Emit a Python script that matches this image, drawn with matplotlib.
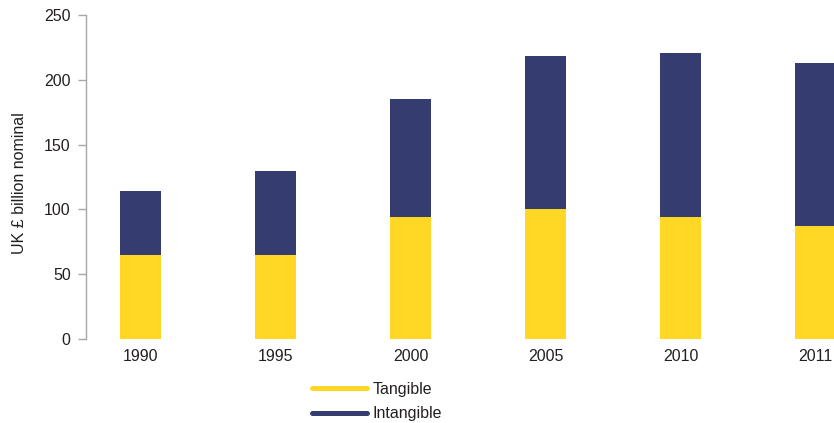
import matplotlib
matplotlib.use("Agg")
import matplotlib.pyplot as plt
from matplotlib.lines import Line2D

years = ["1990", "1995", "2000", "2005", "2010", "2011"]
tangible = [65, 65, 94, 100, 94, 87]
intangible = [49, 65, 91, 118, 127, 126]

c_tan = "#FFD724"
c_int = "#353C70"
axis_c = "#A6A6AE"
txt_c = "#231F20"

plt.rcParams['font.family'] = ['Liberation Sans', 'DejaVu Sans']

fig = plt.figure(figsize=(8.34, 4.23), dpi=100)
ax = fig.add_axes([86/834, 1-339/423, 1-86/834, 324/423])

x = list(range(len(years)))
ax.bar(x, tangible, width=0.304, color=c_tan, label="Tangible")
ax.bar(x, intangible, width=0.304, bottom=tangible, color=c_int, label="Intangible")

ax.set_xlim(-0.404, 5.137)
ax.set_ylim(0, 250)
ax.set_yticks([0, 50, 100, 150, 200, 250])
ax.set_xticks(x)
ax.set_xticklabels(years)

for s in ["top", "right", "bottom"]:
    ax.spines[s].set_visible(False)
ax.spines["left"].set_color(axis_c)
ax.spines["left"].set_linewidth(1.0)
ax.tick_params(axis="y", colors=axis_c, labelcolor=txt_c, labelsize=11.5, length=6, width=1.0, pad=5)
ax.tick_params(axis="x", length=0, labelsize=11.5, labelcolor=txt_c, pad=7)
ax.set_ylabel("UK £ billion nominal", fontsize=11.5, color=txt_c)
ax.yaxis.set_label_coords(-0.079, 0.481)

handles = [Line2D([0], [0], color=c_tan, lw=3.6, solid_capstyle="round"),
           Line2D([0], [0], color=c_int, lw=3.6, solid_capstyle="round")]
fig.legend(handles, ["Tangible", "Intangible"], loc="center left",
           bbox_to_anchor=(298/834, 1-401.5/423), frameon=False, fontsize=11.5,
           handlelength=3.4, handletextpad=0.35, labelspacing=0.6,
           labelcolor=txt_c)

fig.savefig("out.png", dpi=100)
